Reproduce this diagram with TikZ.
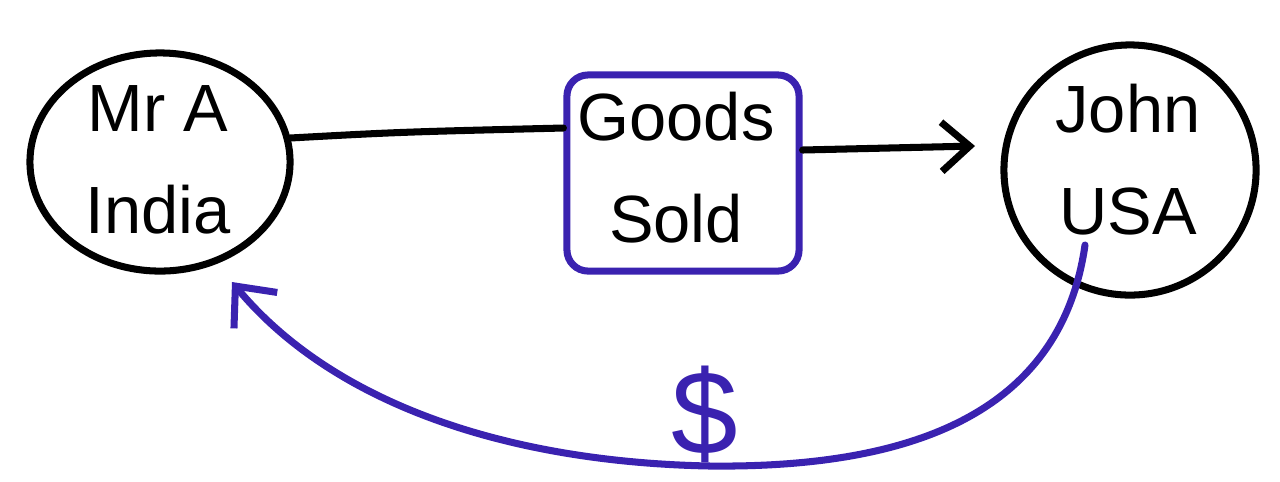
\documentclass[tikz,border=0pt]{standalone}
\usepackage{fontspec}
\setmainfont{Liberation Sans}
\usetikzlibrary{arrows.meta,shapes.geometric}
\definecolor{pen}{HTML}{3A22B0}
\begin{document}
\begin{tikzpicture}[x=0.01cm,y=-0.01cm,
  blk/.style={line width=2pt,black,line cap=round,line join=round},
  blu/.style={line width=2pt,pen,line cap=round,line join=round},
  lbl/.style={font=\fontsize{19}{29}\selectfont,align=center,inner sep=0pt}]
\useasboundingbox (0,0) rectangle (1280,481);
\node[blk,draw,ellipse,minimum width=2.6cm,minimum height=2.18cm,inner sep=0pt] (a) at (160,162) {};
\node[lbl] (at) at (158,160) {Mr A\\India};
\node[blu,draw,rounded corners=6pt,minimum width=2.32cm,minimum height=1.96cm,inner sep=0pt] (g) at (683,173) {};
\node[lbl] (gt) at (676,168) {Goods\\Sold};
\node[blk,draw,ellipse,minimum width=2.52cm,minimum height=2.5cm,inner sep=0pt] (j) at (1130,170) {};
\node[lbl] (jt) at (1128,160) {John\\USA};
\coordinate (a1) at (290,138);
\draw[blk] (a1) .. controls (400,132) .. (g.west |- {0,128});
\coordinate (jt1) at (975,146);
\draw[blk,-{Straight Barb[length=8pt,width=14pt]}] (g.east |- {0,150}) -- (jt1);
\coordinate (jb) at (1085,245);
\coordinate (ab) at (232,282);
\draw[blu,-{Straight Barb[length=9pt,width=16pt]}] (jb) .. controls (1060,420) and (900,468) .. (710,466)
  .. controls (500,462) and (330,400) .. (ab);
\node[font=\fontsize{34}{40}\selectfont,text=pen,inner sep=0pt] (d) at (705,414) {\$};
\end{tikzpicture}
\end{document}
